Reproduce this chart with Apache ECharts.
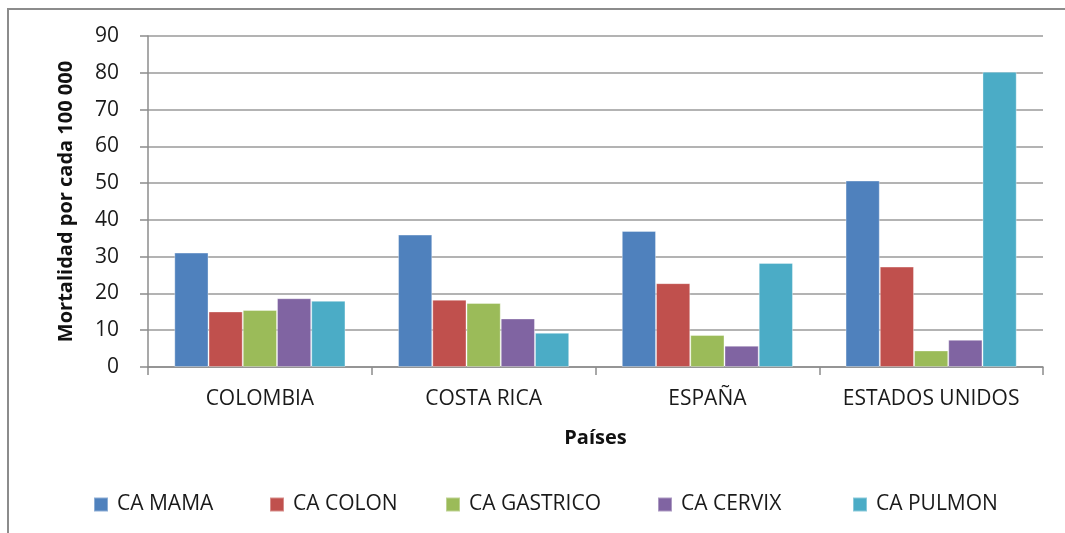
<!DOCTYPE html>
<html>
<head>
<meta charset="utf-8">
<script src="https://cdn.jsdelivr.net/npm/echarts@6/dist/echarts.min.js"></script>
<style>
  html, body { margin: 0; padding: 0; background: #fff; }
  #chart { width: 1065px; height: 533px; }
</style>
</head>
<body>
<div id="chart"></div>
<script>
// Mortalidad por cáncer por cada 100 000 habitantes
const paises = ['COLOMBIA', 'COSTA RICA', 'ESPAÑA', 'ESTADOS UNIDOS'];
const tipos = ['CA MAMA', 'CA COLON', 'CA GASTRICO', 'CA CERVIX', 'CA PULMON'];
const caMama     = [31.1, 36.0, 37.0, 50.7];
const caColon    = [15.1, 18.3, 22.8, 27.3];
const caGastrico = [15.5, 17.4, 8.7, 4.5];
const caCervix   = [18.7, 13.2, 5.8, 7.4];
const caPulmon   = [18.0, 9.3, 28.3, 80.3];
const yTicks = { min: 0, max: 90, interval: 10 };

const FONT = '"Open Sans", "Liberation Sans", sans-serif';
const colores = ['#4F81BD', '#C0504D', '#9BBB59', '#8064A2', '#4BACC6'];
const valores = [caMama, caColon, caGastrico, caCervix, caPulmon];
// left offset of each legend entry along the bottom row
const legendLeft = [88, 264, 440, 652, 847];

const chart = echarts.init(document.getElementById('chart'), null, { renderer: 'canvas' });
chart.setOption({
  animation: false,
  color: colores,
  textStyle: { fontFamily: FONT },
  graphic: [{
    type: 'rect', silent: true,
    shape: { x: 8, y: 9, width: 1070, height: 540 },
    style: { fill: 'none', stroke: '#8c8c8c', lineWidth: 2 }
  }],
  grid: { left: 148, right: 22, top: 36, bottom: 166, containLabel: false },
  legend: tipos.map((t, i) => ({
    left: legendLeft[i], top: 489,
    itemWidth: 14, itemHeight: 14,
    icon: 'rect',
    textStyle: { fontFamily: FONT, fontSize: 21, color: '#1a1a1a', padding: [0, 0, 0, 4] },
    data: [t]
  })),
  xAxis: {
    type: 'category', data: paises,
    name: 'Países', nameLocation: 'middle', nameGap: 61,
    nameTextStyle: { fontFamily: FONT, fontSize: 20, fontWeight: 'bold', color: '#111' },
    axisLine: { lineStyle: { color: '#8c8c8c', width: 1.5 } },
    axisTick: { show: true, length: 8, lineStyle: { color: '#8c8c8c', width: 1.5 } },
    axisLabel: { interval: 0, fontFamily: FONT, fontSize: 21, color: '#1a1a1a', margin: 22 }
  },
  yAxis: {
    type: 'value', min: yTicks.min, max: yTicks.max, interval: yTicks.interval,
    name: 'Mortalidad por cada 100 000', nameLocation: 'middle', nameGap: 72,
    nameTextStyle: { fontFamily: FONT, fontSize: 20, fontWeight: 'bold', color: '#111' },
    axisLine: { show: true, lineStyle: { color: '#8c8c8c', width: 1.5 } },
    axisTick: { show: true, length: 8, lineStyle: { color: '#8c8c8c', width: 1.5 } },
    axisLabel: { fontFamily: FONT, fontSize: 21, color: '#1a1a1a', margin: 29 },
    splitLine: { lineStyle: { color: '#9a9a9a', width: 1.5 } }
  },
  series: tipos.map((t, i) => ({
    name: t, type: 'bar', data: valores[i],
    barGap: '0%', barCategoryGap: '23.5%',
    itemStyle: { color: colores[i], borderColor: 'rgba(255,255,255,0.35)', borderWidth: 1 }
  }))
});
</script>
</body>
</html>
